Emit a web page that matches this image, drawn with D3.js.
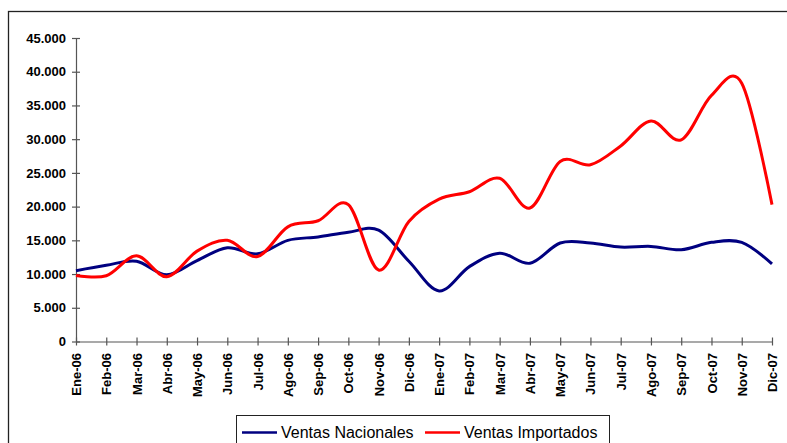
<!DOCTYPE html>
<html>
  <head>
    <meta charset="utf-8">
    <title>Ventas nacionales e importados</title>
    <script src="https://d3js.org/d3.v7.min.js"></script>
    <style>
      body { margin: 0; background: #fff; }
      #chart { display: block; font-family: "Liberation Sans", Arial, sans-serif; }
      .axis text { font-size: 13px; font-weight: bold; fill: #000; }
      .axis path, .axis line { stroke: #555; stroke-width: 1.2; }
      .legend text { font-size: 16px; fill: #000; }
    </style>
  </head>
  <body>
    <svg id="chart" width="787" height="443"></svg>
    <script>
      // data
      var months = ["Ene-06", "Feb-06", "Mar-06", "Abr-06", "May-06", "Jun-06", "Jul-06", "Ago-06",
        "Sep-06", "Oct-06", "Nov-06", "Dic-06", "Ene-07", "Feb-07", "Mar-07", "Abr-07", "May-07",
        "Jun-07", "Jul-07", "Ago-07", "Sep-07", "Oct-07", "Nov-07", "Dic-07"];
      var nacionales = [10500, 11300, 11900, 9900, 12000, 13900, 13000, 15000, 15500, 16200, 16500, 11900,
        7500, 11100, 13100, 11600, 14600, 14600, 14000, 14100, 13600, 14700, 14700, 11500];
      var importados = [9800, 9750, 12700, 9600, 13400, 15000, 12600, 17000, 17900, 20300, 10600, 17800,
        21100, 22200, 24200, 19800, 26700, 26200, 29000, 32700, 29900, 36500, 38300, 20300];
      var yTicks = [0, 5000, 10000, 15000, 20000, 25000, 30000, 35000, 40000, 45000];
      var seriesNames = ["Ventas Nacionales", "Ventas Importados"];
      var seriesColours = ["#000080", "#ff0000"];

      var svg = d3.select("#chart");
      var margin = { top: 38, right: 15, bottom: 101.5, left: 76 };
      var width = 787, height = 443;

      // outer frame
      svg.append("rect")
        .attr("x", 8.5).attr("y", 11.5)
        .attr("width", 800).attr("height", 460)
        .attr("fill", "none")
        .attr("stroke", "#222")
        .attr("stroke-width", 1.3);

      var x = d3.scalePoint()
        .domain(months)
        .range([margin.left, width - margin.right]);
      var y = d3.scaleLinear()
        .domain([0, 45000])
        .range([height - margin.bottom, margin.top]);

      var es = d3.formatLocale({ decimal: ",", thousands: ".", grouping: [3], currency: ["", ""] });
      var fmt = es.format(",.0f");

      // y axis
      var yAxisGroup = svg.append("g")
        .attr("class", "axis")
        .attr("transform", "translate(" + margin.left + ",0)")
        .call(d3.axisLeft(y).tickValues(yTicks).tickFormat(fmt).tickSizeInner(4).tickSizeOuter(0).tickPadding(6));
      yAxisGroup.selectAll(".tick line").attr("x1", 4);

      // x axis
      var xAxisGroup = svg.append("g")
        .attr("class", "axis")
        .attr("transform", "translate(0," + y(0) + ")")
        .call(d3.axisBottom(x).tickSizeInner(4).tickSizeOuter(0));
      xAxisGroup.selectAll(".tick line").attr("y1", -4);
      xAxisGroup.selectAll(".tick text")
        .attr("transform", "rotate(-90)")
        .attr("text-anchor", "end")
        .attr("x", -11.5)
        .attr("y", 0)
        .attr("dy", "0.35em");

      // lines
      var line = d3.line()
        .x(function(d, i) { return x(months[i]); })
        .y(function(d) { return y(d); })
        .curve(d3.curveCardinal.tension(0));
      [nacionales, importados].forEach(function(values, k) {
        svg.append("path")
          .datum(values)
          .attr("fill", "none")
          .attr("stroke", seriesColours[k])
          .attr("stroke-width", 3)
          .attr("stroke-linejoin", "round")
          .attr("d", line);
      });

      // legend
      var legend = svg.append("g").attr("class", "legend");
      legend.append("rect")
        .attr("x", 236.5).attr("y", 415.5)
        .attr("width", 373).attr("height", 40)
        .attr("fill", "#fff")
        .attr("stroke", "#222")
        .attr("stroke-width", 1);
      var legendX = [242, 425];
      seriesNames.forEach(function(name, k) {
        legend.append("line")
          .attr("x1", legendX[k]).attr("x2", legendX[k] + 35)
          .attr("y1", 432.5).attr("y2", 432.5)
          .attr("stroke", seriesColours[k])
          .attr("stroke-width", 2.5);
        legend.append("text")
          .attr("x", legendX[k] + 39)
          .attr("y", 438)
          .text(name);
      });
    </script>
  </body>
</html>
